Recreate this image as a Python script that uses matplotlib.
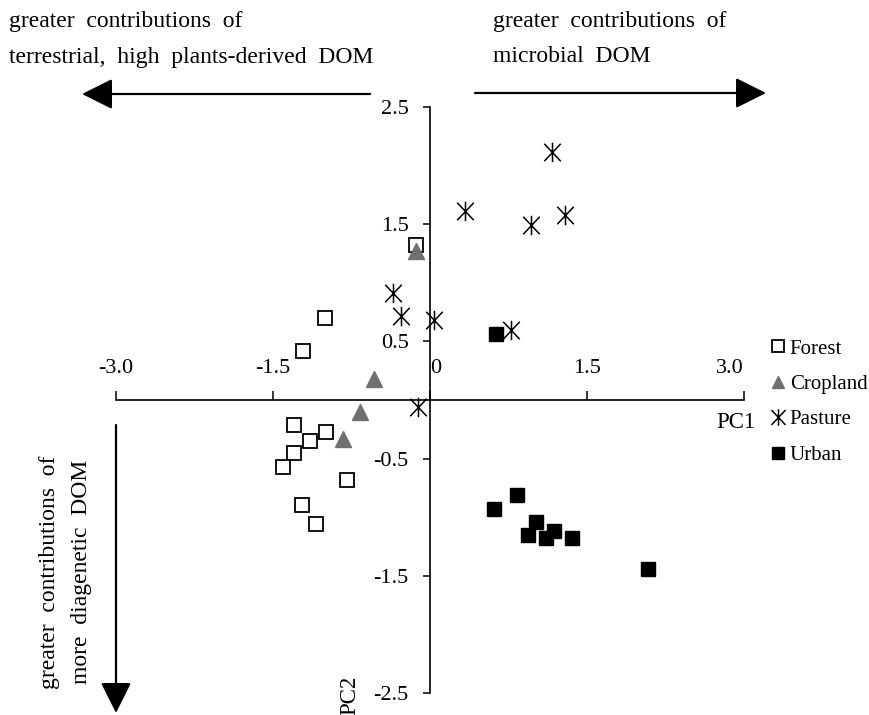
import matplotlib
matplotlib.use("Agg")
import matplotlib.pyplot as plt
from matplotlib.path import Path
from matplotlib.patches import FancyArrowPatch

plt.rcParams['font.family'] = ['Liberation Serif', 'DejaVu Serif']

# PCA scores per land use
forest_x = [-0.13, -1.00, -1.21, -1.30, -1.14, -0.99, -1.30, -1.40, -0.79, -1.22, -1.09]
forest_y = [1.32, 0.70, 0.42, -0.21, -0.35, -0.27, -0.45, -0.57, -0.68, -0.90, -1.06]

crop_x = [-0.13, -0.53, -0.67, -0.83]
crop_y = [1.27, 0.18, -0.10, -0.33]

pasture_x = [1.17, 0.34, 0.97, 1.29, -0.35, -0.27, 0.04, 0.78, -0.11]
pasture_y = [2.12, 1.61, 1.49, 1.58, 0.91, 0.72, 0.68, 0.60, -0.06]

urban_x = [0.63, 0.61, 0.83, 1.02, 0.94, 1.11, 1.19, 1.36, 2.09]
urban_y = [0.56, -0.93, -0.81, -1.04, -1.15, -1.18, -1.12, -1.18, -1.44]

xticks = [-3.0, -1.5, 0, 1.5, 3.0]
xtick_labels = ['-3.0', '-1.5', '0', '1.5', '3.0']
yticks = [2.5, 1.5, 0.5, -0.5, -1.5, -2.5]
ytick_labels = ['2.5', '1.5', '0.5', '-0.5', '-1.5', '-2.5']

W, H = 870, 715


def fx(px):
    return px / W


def fy(py):
    return 1 - py / H


# asterisk: vertical bar plus a steep X
star = Path([(0, -1), (0, 1), (-0.85, -0.9), (0.85, 0.9), (-0.85, 0.9), (0.85, -0.9)],
            [Path.MOVETO, Path.LINETO, Path.MOVETO, Path.LINETO, Path.MOVETO, Path.LINETO])

fig = plt.figure(figsize=(W / 100, H / 100), dpi=100)
ax = fig.add_axes([fx(115.6), fy(693), fx(743.7) - fx(115.6), fy(107) - fy(693)])

ax.plot(forest_x, forest_y, 's', ms=10, mfc='white', mec='black', mew=1.3, label='Forest')
ax.plot(crop_x, crop_y, '^', ms=11, color='#707070', label='Cropland')
ax.plot(pasture_x, pasture_y, ls='none', marker=star, ms=14, mfc='none', mec='black', mew=1.1,
        label='Pasture')
ax.plot(urban_x, urban_y, 's', ms=10.5, color='black', mew=1, label='Urban')

ax.set_xlim(-3, 3)
ax.set_ylim(-2.5, 2.5)

# axes cross at the origin
for side in ['left', 'bottom', 'top']:
    ax.spines[side].set_position(('data', 0))
    ax.spines[side].set_linewidth(1.2)
ax.spines['top'].set_visible(False)
ax.spines['right'].set_visible(False)

ax.xaxis.set_ticks_position('top')
ax.yaxis.set_ticks_position('left')
ax.set_xticks(xticks, labels=xtick_labels)
ax.set_yticks(yticks, labels=ytick_labels)
ax.tick_params(axis='x', direction='out', length=6.5, width=1.1, pad=9, labelsize=16)
ax.tick_params(axis='y', direction='out', length=5, width=1.1, pad=10, labelsize=16)
xl = ax.get_xticklabels()
xl[2].set_ha('left')
xl[4].set_ha('right')

ax.legend(loc='upper left', bbox_to_anchor=(fx(770), fy(339)), bbox_transform=fig.transFigure,
          frameon=False, handlelength=0.8, handletextpad=0.15, labelspacing=0.76,
          fontsize=15, markerscale=0.85, borderaxespad=0, borderpad=0)

fig.text(fx(736), fy(422), 'PC1', ha='center', va='center', fontsize=16.5)
fig.text(fx(350), fy(695), 'PC2', ha='center', va='center', rotation=90, fontsize=16.5)

# direction notes
note = dict(fontsize=17)
fig.text(fx(9), fy(22), 'greater  contributions  of', ha='left', va='center', **note)
fig.text(fx(9), fy(57), 'terrestrial,  high  plants-derived  DOM', ha='left', va='center', **note)
fig.text(fx(493), fy(22), 'greater  contributions  of', ha='left', va='center', **note)
fig.text(fx(493), fy(57), 'microbial  DOM', ha='left', va='center', **note)
fig.text(fx(50), fy(572), 'greater  contributions  of', ha='center', va='center', rotation=90, **note)
fig.text(fx(82), fy(572), 'more  diagenetic  DOM', ha='center', va='center', rotation=90, **note)

arrows = [((370, 94), (82, 94)), ((475, 93), (766, 93)), ((116, 425), (116, 713))]
for (x0, y0), (x1, y1) in arrows:
    arr = FancyArrowPatch((fx(x0), fy(y0)), (fx(x1), fy(y1)), transform=fig.transFigure,
                          arrowstyle='-|>,head_length=1.0,head_width=0.5', mutation_scale=19,
                          lw=1.6, color='black', shrinkA=0, shrinkB=0)
    fig.add_artist(arr)

fig.savefig('out.png', dpi=100)
plt.close(fig)
